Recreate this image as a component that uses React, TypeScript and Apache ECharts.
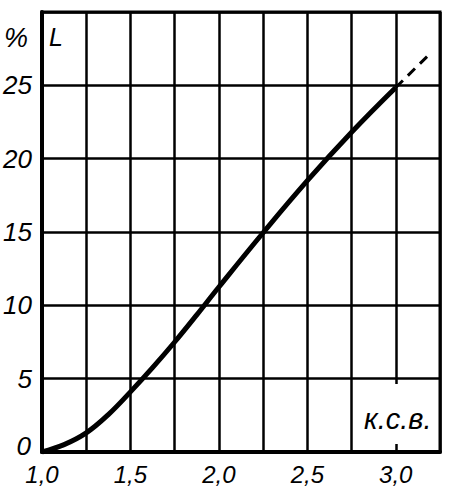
import React, { useEffect, useRef } from "react";
import * as echarts from "echarts";

const ratioValues = [1.0, 1.125, 1.25, 1.375, 1.5, 1.625, 1.75, 1.875, 2.0, 2.25, 2.5, 2.75, 3.0];
const lossValues = [0, 0.5, 1.3, 2.55, 4.1, 5.75, 7.5, 9.35, 11.25, 14.95, 18.5, 21.8, 24.85];
const extrapRatio = [3.0, 3.18];
const extrapLoss = [24.85, 27.0];
const yTicks = [5, 10, 15, 20, 25];
const zeroLabel = "0";
const xTickLabels = ["1,0", "1,5", "2,0", "2,5", "3,0"];

const FONT = "Liberation Sans";

export default function App() {
  const ref = useRef<HTMLDivElement>(null);
  useEffect(() => {
    if (!ref.current) return;
    const chart = echarts.init(ref.current, null, { renderer: "svg" });
    const fmtX = (v: number) => {
      const i = Math.round((v - 1) / 0.5);
      if (Math.abs(v - (1 + i * 0.5)) < 1e-6 && i >= 0 && i < xTickLabels.length) return xTickLabels[i];
      return "";
    };
    const fmtY = (v: number) => (yTicks.indexOf(v) >= 0 ? String(v) : "");
    chart.setOption({
      animation: false,
      backgroundColor: "#ffffff",
      grid: {
        left: 42,
        right: 10,
        top: 12,
        bottom: 48,
        show: true,
        borderColor: "#000",
        borderWidth: 3,
        backgroundColor: "transparent",
      },
      xAxis: {
        type: "value",
        min: 1,
        max: 3.25,
        interval: 0.25,
        axisLine: { show: true, onZero: false, lineStyle: { color: "#000", width: 4 } },
        axisTick: { show: false },
        splitLine: { show: true, lineStyle: { color: "#000", width: 2.5 } },
        axisLabel: {
          formatter: fmtX,
          color: "#000",
          fontFamily: FONT,
          fontStyle: "italic",
          fontSize: 24,
          lineHeight: 22,
          margin: 11,
        },
      },
      yAxis: {
        type: "value",
        min: 0,
        max: 30,
        interval: 5,
        axisLine: { show: true, lineStyle: { color: "#000", width: 4 } },
        axisTick: { show: false },
        splitLine: { show: true, lineStyle: { color: "#000", width: 2.5 } },
        axisLabel: {
          formatter: fmtY,
          color: "#000",
          fontFamily: FONT,
          fontStyle: "italic",
          fontSize: 26,
          lineHeight: 20,
          margin: 10,
        },
      },
      series: [
        {
          type: "line",
          data: ratioValues.map((x, i) => [x, lossValues[i]]),
          smooth: 0.4,
          symbol: "none",
          lineStyle: { color: "#000", width: 5 },
          z: 5,
        },
        {
          type: "line",
          data: extrapRatio.map((x, i) => [x, extrapLoss[i]]),
          symbol: "none",
          lineStyle: { color: "#000", width: 3, type: [10, 7] },
          z: 5,
        },
      ],
      graphic: [
        {
          type: "rect",
          z: 50,
          shape: { x: 389, y: 384, width: 9, height: 60 },
          style: { fill: "#fff" },
        },
        {
          type: "text",
          z: 60,
          x: 31,
          y: 433,
          style: {
            text: zeroLabel,
            fill: "#000",
            font: `italic 26px "${FONT}"`,
            textAlign: "right",
            textVerticalAlign: "top",
          },
        },
        {
          type: "text",
          z: 60,
          x: 4,
          y: 24,
          style: { text: "%", fill: "#000", font: `italic 27px "${FONT}"` },
        },
        {
          type: "text",
          z: 60,
          x: 49,
          y: 24,
          style: { text: "L", fill: "#000", font: `italic 25px "${FONT}"` },
        },
        {
          type: "text",
          z: 60,
          x: 364,
          y: 404,
          style: { text: "к.с.в.", fill: "#000", font: `italic 29px "${FONT}"` },
        },
      ],
    });
    return () => chart.dispose();
  }, []);
  return (
    <div
      ref={ref}
      style={{ position: "fixed", left: 0, top: 0, width: 450, height: 500, background: "#fff" }}
    />
  );
}
